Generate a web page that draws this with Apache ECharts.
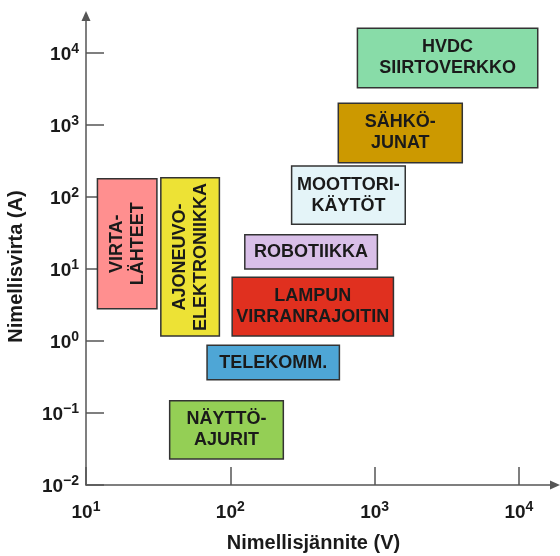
<!DOCTYPE html>
<html>
<head>
<meta charset="utf-8">
<script src="https://cdn.jsdelivr.net/npm/echarts@6/dist/echarts.min.js"></script>
<style>
html,body{margin:0;padding:0;background:#fff}
#chart{width:560px;height:556px}
</style>
</head>
<body>
<div id="chart"></div>
<script>
// sovellusalueet: jännite- ja virta-alueet
var names = ['VIRTA-\nLÄHTEET', 'AJONEUVO-\nELEKTRONIIKKA', 'ROBOTIIKKA', 'LAMPUN\nVIRRANRAJOITIN',
    'TELEKOMM.', 'NÄYTTÖ-\nAJURIT', 'MOOTTORI-\nKÄYTÖT', 'SÄHKÖ-\nJUNAT', 'HVDC\nSIIRTOVERKKO'];
var voltLow  = [12,  33,  126,  103,  69,   38,    266,  560,  760];
var voltHigh = [31,  84,  1045, 1350, 570,  233,   1630, 4050, 13500];
var currLow  = [2.8, 1.17, 10,  1.17, 0.29, 0.023, 42,   300,  3300];
var currHigh = [180, 185,  30,  7.7,  0.87, 0.148, 270,  2000, 22000];
var xTicks = [10, 100, 1000, 10000];
var yTicks = [0.01, 0.1, 1, 10, 100, 1000, 10000];

var colors = ['#ff8f8f', '#ede235', '#d9bfe8', '#e0301f', '#4ea6d6', '#94cf55', '#e4f4f8', '#cc9900', '#88dca8'];
var vertical = [true, true, false, false, false, false, false, false, false];

var boxData = [];
for (var i = 0; i < names.length; i++) {
    boxData.push([voltLow[i], voltHigh[i], currLow[i], currHigh[i], i]);
}

function powLabel(v) {
    var e = Math.round(Math.log10(v));
    var s = e < 0 ? '\u2212' + (-e) : '' + e;
    return '{b|10}{s|' + s + '}';
}

var labelRich = {
    b: {fontSize: 19, lineHeight: 22, verticalAlign: 'bottom', fontWeight: 'bold', fontFamily: 'Liberation Sans', color: '#1a1a1a'},
    s: {fontSize: 14, lineHeight: 16, padding: [0, 0, 9, 0], verticalAlign: 'top', fontWeight: 'bold', fontFamily: 'Liberation Sans', color: '#1a1a1a'}
};
var nameStyle = {fontSize: 20, fontWeight: 'bold', fontFamily: 'Liberation Sans', color: '#1a1a1a'};
var axisColor = '#555';

var myChart = echarts.init(document.getElementById('chart'));
var option = {
    backgroundColor: '#fff',
    animation: false,
    grid: {left: 86, right: 5, top: 16, bottom: 71, outerBoundsMode: 'none'},
    xAxis: {
        type: 'log',
        logBase: 10,
        min: 10,
        max: 17780,
        name: 'Nimellisjännite (V)',
        nameLocation: 'middle',
        nameGap: 48,
        nameTextStyle: echarts.util.extend({padding: [0, 14, 0, 0]}, nameStyle),
        axisLine: {show: true, symbol: ['none', 'triangle'], symbolSize: [9, 10], lineStyle: {color: axisColor, width: 1.5}},
        axisTick: {show: true, inside: true, length: 18, customValues: xTicks, lineStyle: {color: axisColor, width: 1.5}},
        axisLabel: {margin: 15, customValues: xTicks, formatter: powLabel, rich: labelRich},
        splitLine: {show: false},
        minorTick: {show: false}
    },
    yAxis: {
        type: 'log',
        logBase: 10,
        min: 0.01,
        max: 32660,
        name: 'Nimellisvirta (A)',
        nameLocation: 'middle',
        nameGap: 60,
        nameTextStyle: echarts.util.extend({padding: [0, 32, 0, 0]}, nameStyle),
        axisLine: {show: true, symbol: ['none', 'triangle'], symbolSize: [9, 10], lineStyle: {color: axisColor, width: 1.5}},
        axisTick: {show: true, inside: true, length: 18, customValues: yTicks, lineStyle: {color: axisColor, width: 1.5}},
        axisLabel: {margin: 7, customValues: yTicks, formatter: powLabel, rich: labelRich},
        splitLine: {show: false},
        minorTick: {show: false}
    },
    series: [{
        type: 'custom',
        encode: {x: [0, 1], y: [2, 3]},
        data: boxData,
        clip: false,
        renderItem: function (params, api) {
            var idx = api.value(4);
            var p1 = api.coord([api.value(0), api.value(3)]);
            var p2 = api.coord([api.value(1), api.value(2)]);
            var cx = (p1[0] + p2[0]) / 2, cy = (p1[1] + p2[1]) / 2;
            return {
                type: 'group',
                children: [{
                    type: 'rect',
                    shape: {x: p1[0], y: p1[1], width: p2[0] - p1[0], height: p2[1] - p1[1]},
                    style: {fill: colors[idx], stroke: '#333', lineWidth: 1.5}
                }, {
                    type: 'text',
                    x: cx,
                    y: cy,
                    rotation: vertical[idx] ? Math.PI / 2 : 0,
                    style: {
                        text: names[idx],
                        fill: '#1a1a1a',
                        font: 'bold 18px "Liberation Sans"',
                        lineHeight: 21,
                        align: 'center',
                        verticalAlign: 'middle'
                    }
                }]
            };
        }
    }]
};
myChart.setOption(option);
</script>
</body>
</html>
